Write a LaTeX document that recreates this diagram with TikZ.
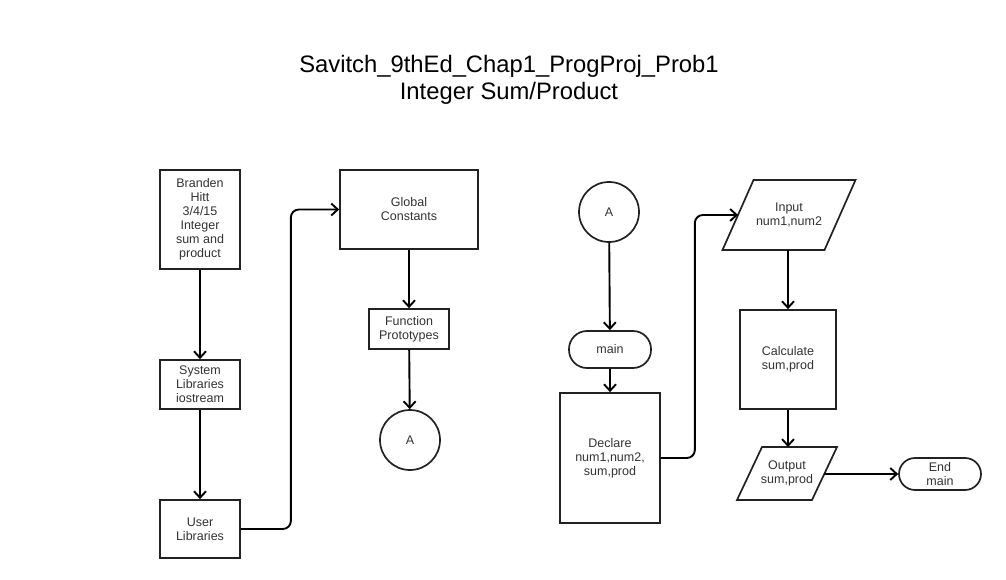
\documentclass[tikz,border=0pt]{standalone}
\usepackage{fontspec}
\setmainfont{Liberation Sans}
\usetikzlibrary{arrows.meta}
\definecolor{edge}{HTML}{222222}
\definecolor{txt}{HTML}{333333}
\tikzset{
  label/.style={align=center, font=\fontsize{12.5}{14}\selectfont, text=txt, inner sep=0pt},
  box/.style={label, draw=edge, line width=1.7pt, fill=white},
  outline/.style={draw=edge, line width=1.7pt, fill=white, line join=miter},
  proc/.style={box, rectangle},
  term/.style={box, rectangle, rounded corners=16pt},
  conn/.style={circle, box, minimum size=60pt},
  flow/.style={draw=black, line width=1.9pt, -{Straight Barb[length=6.5pt,width=12pt]}},
}
\begin{document}
\begin{tikzpicture}[x=1pt,y=-1pt]
\useasboundingbox (0,0) rectangle (1006,580);
\node[font=\fontsize{23.8}{27}\selectfont, align=center, text=black] (title) at (509,80) {Savitch\_9thEd\_Chap1\_ProgProj\_Prob1\\Integer Sum/Product};

\node[proc, minimum width=80pt, minimum height=99pt] (b1) at (200,219.5) {Branden\\Hitt\\3/4/15\\Integer\\sum and\\product};
\node[proc, minimum width=80pt, minimum height=49pt] (sys) at (200,384.5) {System\\Libraries\\iostream};
\node[proc, minimum width=80pt, minimum height=58pt] (usr) at (200,529) {User\\Libraries};
\node[proc, minimum width=138pt, minimum height=79pt] (glob) at (409,209.5) {Global\\Constants};
\node[proc, minimum width=80pt, minimum height=40pt] (func) at (409,329) {Function\\Prototypes};
\node[conn] (a1) at (410,440) {A};

\node[conn] (a2) at (609,212) {A};
\node[term, minimum width=82pt, minimum height=37pt, rounded corners=18pt] (main) at (610,349.5) {main};
\node[proc, minimum width=100pt, minimum height=130pt] (decl) at (610,458) {Declare\\num1,num2,\\sum,prod};

% Input parallelogram
\coordinate (inTL) at (753.5,180); \coordinate (inTR) at (855.5,180);
\coordinate (inBR) at (824.5,250); \coordinate (inBL) at (722.5,250);
\coordinate (inW) at (738,215); \coordinate (inS) at (788,250);
\draw[outline] (inTL) -- (inTR) -- (inBR) -- (inBL) -- cycle;
\node[label] (in) at (789,215) {Input\\num1,num2};

\node[proc, minimum width=96pt, minimum height=99pt] (calc) at (788,359.5) {Calculate\\sum,prod};

% Output parallelogram
\coordinate (outTL) at (762,447); \coordinate (outTR) at (837,447);
\coordinate (outBR) at (812,500); \coordinate (outBL) at (737,500);
\coordinate (outN) at (788,447); \coordinate (outE) at (824.3,474);
\draw[outline] (outTL) -- (outTR) -- (outBR) -- (outBL) -- cycle;
\node[label] (out) at (787,473.5) {Output\\sum,prod};

\node[term, minimum width=82pt, minimum height=32pt] (end) at (940,474) {End\\main};

\draw[flow] (b1) -- (sys);
\draw[flow] (sys) -- (usr);
\draw[flow, rounded corners=8pt] (usr.east) -- ++(50,0) |- (glob.west);
\draw[flow] (glob) -- (func);
\draw[flow] (func) -- (a1);
\draw[flow] (a2) -- (main);
\draw[flow] (main) -- (decl);
\draw[flow, rounded corners=8pt] (decl.east) -- ++(34,0) |- (inW);
\draw[flow] (inS) -- (calc.north);
\draw[flow] (calc.south) -- (outN);
\draw[flow] (outE) -- (end.west);
\end{tikzpicture}
\end{document}
